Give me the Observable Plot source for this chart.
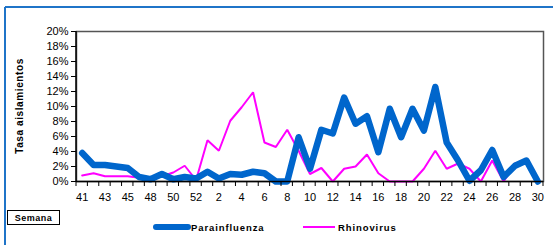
<!DOCTYPE html>
<html><head><meta charset="utf-8">
<script src="https://cdn.jsdelivr.net/npm/d3@7"></script>
<script src="https://cdn.jsdelivr.net/npm/@observablehq/plot@0.6"></script>
<style>
html,body{margin:0;padding:0;background:#fff;}
svg{font-family:"Liberation Sans",Arial,sans-serif;}
</style>
</head><body>
<div id="chart"></div>
<script>
const weeks = ["41","42","43","44","45","46","48","49","50","51","52","1","2","3","4","5","6","7","8","9","10","11","12","13","14","15","16","17","18","19","20","21","22","23","24","25","26","27","28","29","30"];
const parainfluenza = [3.8,2.2,2.2,2.0,1.8,0.6,0.3,1.0,0.3,0.6,0.4,1.3,0.4,1.0,0.9,1.3,1.1,0,0,5.9,1.7,6.9,6.4,11.2,7.7,8.7,3.9,9.7,5.9,9.7,6.8,12.6,5.2,2.8,0.1,1.5,4.2,0.6,2.1,2.8,0];
const rhinovirus = [0.8,1.1,0.7,0.7,0.7,0.5,0.2,0.7,1.2,2.1,0.2,5.5,4.1,8.1,9.9,11.9,5.2,4.6,6.9,4.1,1.0,1.8,0,1.7,2.0,3.6,1.1,0,0,0,1.7,4.1,1.7,2.4,1.7,0,2.8,0,2.4,2.8,0];
const seriesNames = ["Parainfluenza","Rhinovirus"];
const yTicks = [0,0.02,0.04,0.06,0.08,0.10,0.12,0.14,0.16,0.18,0.20];
const xLabels = weeks.filter((w,i)=>i%2===0);

const rows = [];
weeks.forEach((w,i)=>{
  rows.push({week:w, value:parainfluenza[i]/100, serie:seriesNames[0]});
  rows.push({week:w, value:rhinovirus[i]/100, serie:seriesNames[1]});
});
const colors = {"Parainfluenza":"#0066cc","Rhinovirus":"#ff00ff"};

const plot = Plot.plot({
  width:553, height:245,
  marginLeft:76, marginRight:10, marginTop:31, marginBottom:64,
  style:{fontFamily:'"Liberation Sans",Arial,sans-serif', fontSize:"11px", color:"#000", background:"#fff"},
  x:{type:"point", domain:weeks, padding:0.5, round:false, label:null},
  y:{domain:[0,0.2], label:null},
  marks:[
    Plot.frame({stroke:"#555", strokeWidth:1.5}),
    Plot.axisY({ticks:yTicks, tickFormat:d3.format(".0%"), tickSize:5, tickPadding:3, label:null, stroke:"#000", fontSize:11, letterSpacing:"0.6px"}),
    Plot.axisX({ticks:xLabels, tickSize:0, tickPadding:12, label:null, fontSize:11, letterSpacing:"0.6px"}),
    Plot.line(rows.filter(d=>d.serie===seriesNames[1]), {x:"week", y:"value", stroke:colors.Rhinovirus, strokeWidth:2, strokeLinejoin:"miter"}),
    Plot.line(rows.filter(d=>d.serie===seriesNames[0]), {x:"week", y:"value", stroke:colors.Parainfluenza, strokeWidth:6.5, strokeLinejoin:"round", strokeLinecap:"round"}),
    Plot.ruleY([0], {stroke:"#000", strokeWidth:1.5})
  ]
});
document.getElementById("chart").appendChild(plot);

const svg = d3.select(plot);
const xs = plot.scale("x");
const ys = plot.scale("y");
const step = xs.step;
const y0 = ys.apply(0), yTop = ys.apply(0.2);
// left axis line
const xLeft = xs.apply(weeks[0]) - step/2;
svg.append("line").attr("x1",xLeft).attr("x2",xLeft).attr("y1",yTop).attr("y2",y0).attr("stroke","#000").attr("stroke-width",1.5);
// band-boundary tick marks on x axis
const tickG = svg.append("g").attr("stroke","#000").attr("stroke-width",1);
weeks.forEach(w=>{
  const x = xs.apply(w) - step/2;
  tickG.append("line").attr("x1",x).attr("x2",x).attr("y1",y0).attr("y2",y0+5);
});
const xl = xs.apply(weeks[weeks.length-1]) + step/2;
tickG.append("line").attr("x1",xl).attr("x2",xl).attr("y1",y0).attr("y2",y0+5);

// outer blue border
svg.append("line").attr("x1",5).attr("x2",553).attr("y1",7).attr("y2",7).attr("stroke","#1f74c8").attr("stroke-width",2);
svg.append("line").attr("x1",5).attr("x2",5).attr("y1",7).attr("y2",245).attr("stroke","#1f74c8").attr("stroke-width",2);

// y title
svg.append("text").attr("transform","translate(23,106) rotate(-90)").attr("text-anchor","middle")
  .attr("font-size",10).attr("font-weight","bold").attr("letter-spacing","0.6px").text("Tasa aislamientos");

// Semana box
svg.append("rect").attr("x",7.5).attr("y",210.5).attr("width",52).attr("height",14).attr("fill","#fff").attr("stroke","#000").attr("stroke-width",1);
svg.append("text").attr("x",33.5).attr("y",221).attr("text-anchor","middle").attr("font-size",9).attr("font-weight","bold").attr("letter-spacing","0.5px").text("Semana");

// legend
const leg = [{name:seriesNames[0], x:156, w:6},{name:seriesNames[1], x:303, w:2}];
leg.forEach(l=>{
  svg.append("line").attr("x1",l.x).attr("x2",l.x+32).attr("y1",227).attr("y2",227).attr("stroke",colors[l.name]).attr("stroke-width",l.w).attr("stroke-linecap", l.w>3?"round":"butt");
  svg.append("text").attr("x",l.x+35).attr("y",230.5).attr("text-anchor","start").attr("font-size",9.5).attr("font-weight","bold").attr("letter-spacing","0.9px").text(l.name);
});
</script>
</body></html>
